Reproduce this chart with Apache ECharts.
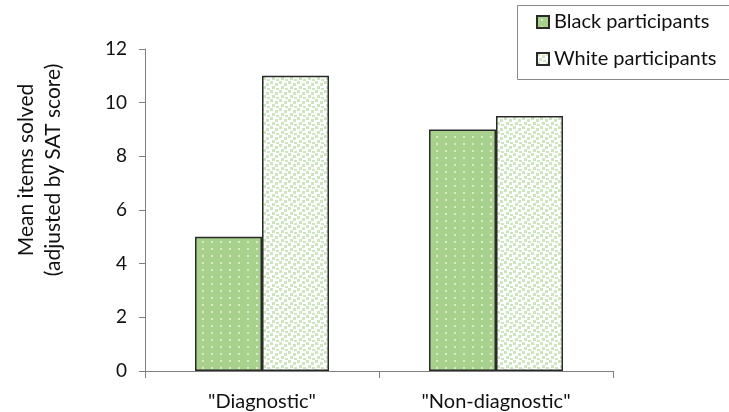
<!DOCTYPE html>
<html><head><meta charset="utf-8">
<script src="https://cdn.jsdelivr.net/npm/echarts@6/dist/echarts.min.js"></script>
<style>html,body{margin:0;padding:0;background:#fff}#c{width:729px;height:412px}</style>
</head><body><div id="c"></div>
<script>
const categories = ['"Diagnostic"', '"Non-diagnostic"'];
const blackParticipants = [5, 9];
const whiteParticipants = [11, 9.5];
const seriesNames = ['Black participants', 'White participants'];
const yTicks = {min: 0, max: 12, interval: 2};

function makePattern(bg, dot, w, h, dots, size) {
  const c = document.createElement('canvas');
  c.width = w; c.height = h;
  const g = c.getContext('2d');
  g.fillStyle = bg; g.fillRect(0, 0, w, h);
  g.fillStyle = dot;
  dots.forEach(d => g.fillRect(d[0], d[1], size, size));
  return c;
}
const greenPat = makePattern('#a9d18e', '#d8ecc9', 9, 7, [[4, 3]], 2);
const whitePat = makePattern('#ffffff', '#cde6bd', 9, 9, [[0, 0], [5, 2], [2, 5], [6, 7]], 3);

const font = 'Lato, "Open Sans", sans-serif';
const chart = echarts.init(document.getElementById('c'), null, {renderer: 'canvas'});
chart.setOption({
  animation: false,
  backgroundColor: '#fff',
  grid: {left: 145, right: 116, top: 49, bottom: 40, containLabel: false},
  legend: {
    orient: 'vertical', left: 531, top: 7, itemWidth: 12, itemHeight: 12, itemGap: 17,
    icon: 'rect',
    textStyle: {fontFamily: font, fontSize: 20, color: '#111'},
    data: seriesNames
  },
  graphic: [
    {type: 'rect', shape: {x: 517.5, y: 5.5, width: 240, height: 74}, style: {fill: 'none', stroke: '#888', lineWidth: 1}},
    {type: 'text', x: 40, y: 170, rotation: Math.PI / 2, style: {text: 'Mean items solved\n(adjusted by SAT score)', font: '21px ' + font, fill: '#111', align: 'center', verticalAlign: 'middle', lineHeight: 27}}
  ],
  xAxis: {
    type: 'category', data: categories,
    axisLine: {lineStyle: {color: '#808080', width: 1}},
    axisTick: {show: true, length: 7, lineStyle: {color: '#808080'}},
    axisLabel: {fontFamily: font, fontSize: 20, color: '#111', margin: 21}
  },
  yAxis: {
    type: 'value', min: yTicks.min, max: yTicks.max, interval: yTicks.interval,
    axisLine: {show: true, lineStyle: {color: '#808080', width: 1}},
    axisTick: {show: true, length: 6, lineStyle: {color: '#808080'}},
    splitLine: {show: false},
    axisLabel: {fontFamily: font, fontSize: 19, color: '#111', margin: 18}
  },
  series: [
    {name: seriesNames[0], type: 'bar', data: blackParticipants, barWidth: 67, barGap: '0%',
     itemStyle: {color: {image: greenPat, repeat: 'repeat'}, borderColor: '#2a2a2a', borderWidth: 1.5}},
    {name: seriesNames[1], type: 'bar', data: whiteParticipants, barWidth: 67, barGap: '0%',
     itemStyle: {color: {image: whitePat, repeat: 'repeat'}, borderColor: '#2a2a2a', borderWidth: 1.5}}
  ]
});
</script></body></html>
